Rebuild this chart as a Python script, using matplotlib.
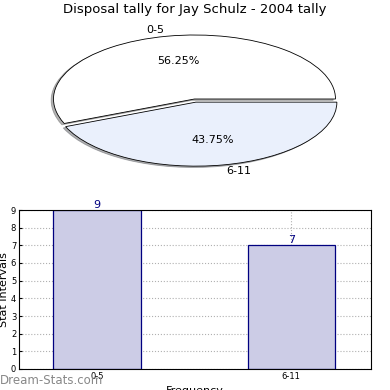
import matplotlib
matplotlib.use("Agg")
import matplotlib.pyplot as plt

title = "Disposal tally for Jay Schulz - 2004 tally"
labels = ["0-5", "6-11"]
counts = [9, 7]
pie_colors = ["#ffffff", "#eaf0fc"]
explode = [0.0, 0.05]

fig = plt.figure(figsize=(3.9, 3.9), dpi=100)

# pie (squashed into an ellipse by the axes shape)
W, H = 390.0, 390.0
rx, ry = 141.0, 64.0
lim = 1.3
cx, cy = 194.5, 99.0
ax1 = fig.add_axes([(cx - rx * lim) / W, (H - cy - ry * lim) / H,
                    2 * rx * lim / W, 2 * ry * lim / H])
wedges, texts, autotexts = ax1.pie(counts, labels=labels, colors=pie_colors,
                                   explode=explode, autopct="%1.2f%%",
                                   startangle=0,
                                   shadow=dict(ox=-0.012, oy=-0.015, shade=0.6),
                                   wedgeprops=dict(edgecolor="black", linewidth=0.6),
                                   textprops=dict(fontsize=8))
ax1.set_aspect("auto")
ax1.set_xlim(-lim, lim)
ax1.set_ylim(-lim, lim)
ax1.axis("off")
fig.text(0.5, 1 - 10 / H, title, ha="center", va="center", fontsize=9.5)

# bar chart
ax2 = fig.add_axes([19 / W, 21 / H, 352 / W, 159 / H])
x = range(len(counts))
ax2.bar(x, counts, width=0.45, color="#ccccE6", edgecolor="navy", linewidth=0.9, zorder=2)
for i, v in enumerate(counts):
    ax2.text(i, v, str(v), ha="center", va="bottom", fontsize=8, color="navy")
ax2.set_xlim(-0.4, 1.41)
ax2.set_ylim(0, 9)
ax2.set_yticks(range(0, 10))
ax2.set_xticks(list(x))
ax2.set_xticklabels(labels)
ax2.tick_params(labelsize=6, direction="in", length=2, pad=2)
ax2.grid(True, linestyle=":", color="#b0b0b0", linewidth=0.8, zorder=0)
ax2.set_axisbelow(True)
ax2.set_ylabel("Stat Intervals", fontsize=8, labelpad=1)
ax2.set_xlabel("Frequency", fontsize=8, labelpad=4)

fig.text(0.0, 9 / H, "Dream-Stats.com", fontsize=8.5, color="#888888", va="center", ha="left")

fig.savefig("out.png", dpi=100)
